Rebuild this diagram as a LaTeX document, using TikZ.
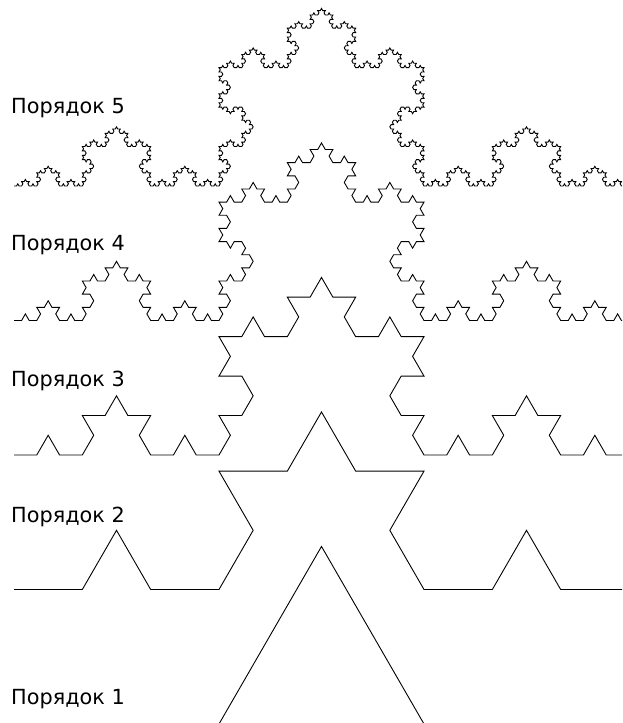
\documentclass[tikz,border=0pt]{standalone}
\usepackage{fontspec}
\setmainfont{DejaVu Sans}
\usetikzlibrary{lindenmayersystems}
\pgfdeclarelindenmayersystem{Koch}{\rule{F -> F+F--F+F}}

\begin{document}
\begin{tikzpicture}[x=1pt, y=1pt,
    kochline/.style={line width=0.9pt, line join=miter},
    ordlabel/.style={anchor=base west, inner sep=0pt, font=\fontsize{20.8}{25}\selectfont}]
  \useasboundingbox (0,0) rectangle (622,723);
  \clip (0,0) rectangle (622,723);

  \node (lab5) [ordlabel] at (11,609) {Порядок 5};
  \node (lab4) [ordlabel] at (11,472) {Порядок 4};
  \node (lab3) [ordlabel] at (11,336) {Порядок 3};
  \node (lab2) [ordlabel] at (11,200) {Порядок 2};
  \node (lab1) [ordlabel] at (11,18) {Порядок 1};

  % Koch curves, one per order
  \foreach \n/\yb in {1/-1, 2/133.5, 3/268, 4/402.5, 5/537} {
    \pgfmathsetmacro\kstep{615/3^\n}
    \draw [kochline, shift={(14,\yb)}, l-system={Koch, axiom=F, order=\n, step=\kstep pt, angle=60}] lindenmayer system;
  }
\end{tikzpicture}
\end{document}
